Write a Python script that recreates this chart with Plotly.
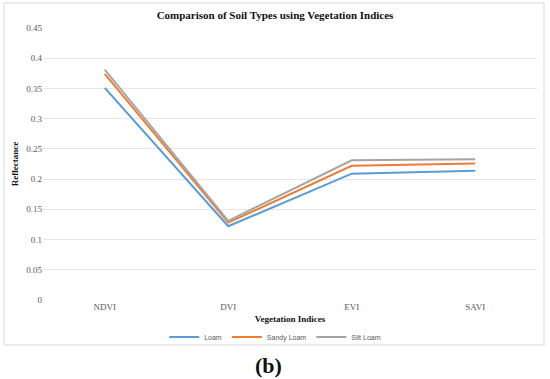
import plotly.graph_objects as go

categories = ["NDVI", "DVI", "EVI", "SAVI"]
loam = [0.351, 0.122, 0.209, 0.214]
sandy_loam = [0.374, 0.128, 0.222, 0.226]
silt_loam = [0.381, 0.131, 0.231, 0.233]
y_ticks = [0, 0.05, 0.1, 0.15, 0.2, 0.25, 0.3, 0.35, 0.4, 0.45]
y_tick_labels = ["0", "0.05", "0.1", "0.15", "0.2", "0.25", "0.3", "0.35", "0.4", "0.45"]

series = [
    ("Loam", loam, "#5B9BD5"),
    ("Sandy Loam", sandy_loam, "#ED7D31"),
    ("Silt Loam", silt_loam, "#A5A5A5"),
]

fig = go.Figure()
for name, vals, color in series:
    fig.add_trace(go.Scatter(x=categories, y=vals, name=name, mode="lines",
                             line=dict(color=color, width=2)))

serif = "Liberation Serif"
fig.update_layout(
    width=550, height=379,
    margin=dict(l=43, r=13, t=28, b=79),
    paper_bgcolor="white", plot_bgcolor="white",
    title=dict(text="<b>Comparison of Soil Types using Vegetation Indices</b>",
               x=0.5, xanchor="center", y=1 - 15 / 379, yanchor="middle",
               font=dict(family=serif, size=11, color="#111111")),
    xaxis=dict(range=[-0.5, 3.5], showgrid=False, showline=False, zeroline=False,
               ticks="", tickfont=dict(family=serif, size=9, color="#595959"),
               title=dict(text="<b>Vegetation Indices</b>", standoff=4,
                          font=dict(family=serif, size=9, color="#111111"))),
    yaxis=dict(range=[0, 0.45], tickvals=y_ticks, ticktext=y_tick_labels,
               showgrid=True, gridcolor="#E6E6E6", gridwidth=1, zeroline=False,
               showline=False, ticks="", ticklen=0,
               tickfont=dict(family=serif, size=9, color="#595959"),
               title=dict(text="<b>Reflectance</b>", standoff=6,
                          font=dict(family=serif, size=9, color="#111111"))),
    legend=dict(orientation="h", x=0.47, xanchor="center", y=-0.136, yanchor="middle",
                font=dict(family="Liberation Sans", size=7, color="#595959"),
                bgcolor="rgba(0,0,0,0)", itemwidth=30, tracegroupgap=0),
    showlegend=True,
)

fig.add_shape(type="rect", xref="paper", yref="paper",
              x0=(4 - 43) / 494, x1=(544 - 43) / 494,
              y0=(300 - 345) / 272, y1=(300 - 3) / 272,
              line=dict(color="#D9D9D9", width=1), fillcolor="rgba(0,0,0,0)", layer="below")

fig.add_annotation(text="<b>(b)</b>", xref="paper", yref="paper",
                   x=(268 - 43) / 494, y=(300 - 365) / 272, showarrow=False,
                   xanchor="center", yanchor="middle",
                   font=dict(family=serif, size=22, color="#111111"))

fig.write_html("out.html", config={"displayModeBar": False},
               post_script="document.body.style.margin='0';document.body.style.overflow='hidden';")
